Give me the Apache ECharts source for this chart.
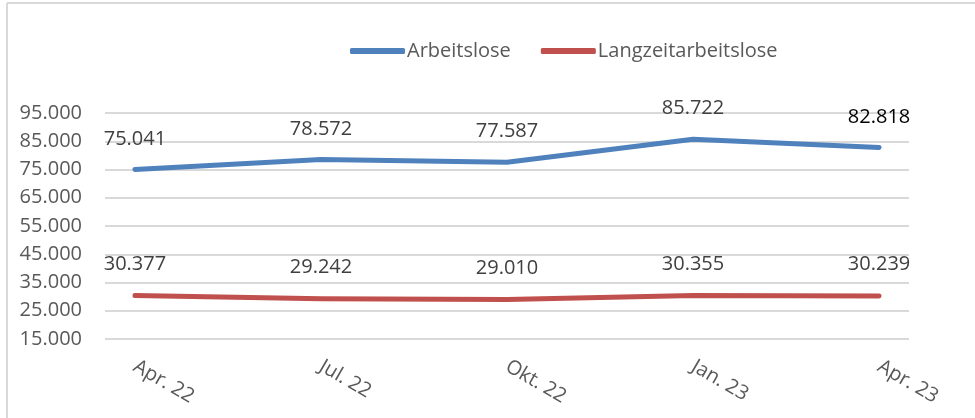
<!DOCTYPE html>
<html>
<head>
<meta charset="utf-8">
<script src="https://cdn.jsdelivr.net/npm/echarts@6/dist/echarts.min.js"></script>
<style>
  html, body { margin: 0; padding: 0; background: #fff; }
  #main { width: 975px; height: 418px; }
</style>
</head>
<body>
<div id="main"></div>
<script>
var months = ['Apr. 22', 'Jul. 22', 'Okt. 22', 'Jan. 23', 'Apr. 23'];
var arbeitslose = [75041, 78572, 77587, 85722, 82818];
var langzeit = [30377, 29242, 29010, 30355, 30239];
var yTicks = [15000, 25000, 35000, 45000, 55000, 65000, 75000, 85000, 95000];

var fmt = function (v) {
  return String(Math.round(v)).replace(/\B(?=(\d{3})+(?!\d))/g, '.');
};

var chartDom = document.getElementById('main');
var myChart = echarts.init(chartDom, null, { renderer: 'canvas' });
var font = '"Open Sans", sans-serif';

var toData = function (arr, lastColor) {
  return arr.map(function (v, i) {
    var item = { value: [i, v] };
    if (lastColor && i === arr.length - 1) item.label = { color: lastColor };
    return item;
  });
};

var option = {
  animation: false,
  backgroundColor: '#fff',
  graphic: [
    { type: 'line', shape: { x1: 7, y1: 3, x2: 975, y2: 3 }, style: { stroke: '#d9d9d9', lineWidth: 2 } },
    { type: 'line', shape: { x1: 7, y1: 3, x2: 7, y2: 418 }, style: { stroke: '#d9d9d9', lineWidth: 2 } }
  ],
  legend: {
    left: 345,
    top: 36,
    icon: 'roundRect',
    itemWidth: 55,
    itemHeight: 6,
    itemGap: 30,
    textStyle: { fontFamily: font, fontSize: 20, color: '#595959', padding: [0, 0, 0, -3] },
    data: ['Arbeitslose', 'Langzeitarbeitslose']
  },
  grid: { left: 105, right: 66, top: 113, bottom: 79 },
  xAxis: {
    type: 'value',
    min: -0.161,
    max: 4.161,
    splitLine: { show: false },
    axisLine: { show: false },
    axisTick: { show: false },
    axisLabel: {
      customValues: [0, 1, 2, 3, 4],
      formatter: function (v) { return months[Math.round(v)]; },
      rotate: -30,
      margin: 26,
      fontFamily: font,
      fontSize: 20,
      color: '#595959'
    }
  },
  yAxis: {
    type: 'value',
    min: yTicks[0],
    max: yTicks[yTicks.length - 1],
    interval: 10000,
    axisLine: { show: false },
    axisTick: { show: false },
    splitLine: { lineStyle: { color: '#d9d9d9', width: 2 } },
    axisLabel: {
      margin: 23,
      fontFamily: font,
      fontSize: 20,
      color: '#595959',
      formatter: fmt
    }
  },
  series: [
    {
      name: 'Arbeitslose',
      type: 'line',
      symbol: 'circle',
      symbolSize: 1,
      color: '#4F81BD',
      lineStyle: { width: 5, cap: 'round', join: 'round' },
      data: toData(arbeitslose, '#000'),
      label: {
        show: true,
        position: 'top',
        distance: 20,
        fontFamily: font,
        fontSize: 20,
        color: '#404040',
        formatter: function (p) { return fmt(p.value[1]); }
      }
    },
    {
      name: 'Langzeitarbeitslose',
      type: 'line',
      symbol: 'circle',
      symbolSize: 1,
      color: '#C0504D',
      lineStyle: { width: 5, cap: 'round', join: 'round' },
      data: toData(langzeit),
      label: {
        show: true,
        position: 'top',
        distance: 21,
        fontFamily: font,
        fontSize: 20,
        color: '#404040',
        formatter: function (p) { return fmt(p.value[1]); }
      }
    }
  ]
};

option && myChart.setOption(option);
</script>
</body>
</html>
